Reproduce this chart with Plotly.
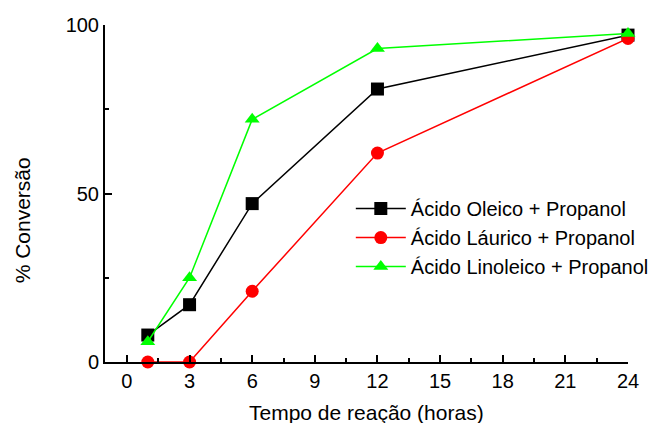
import plotly.graph_objects as go

# Reaction time (hours) and conversion (%) for each fatty acid with propanol
tempo = [1, 3, 6, 12, 24]
oleico = [8, 17, 47, 81, 97]
laurico = [0, 0, 21, 62, 96]
linoleico = [6, 25, 72, 93, 97.5]

x_ticks = [0, 3, 6, 9, 12, 15, 18, 21, 24]
y_ticks = [0, 50, 100]

FONT = "Liberation Sans, Arial, sans-serif"

series = [
    ("Ácido Oleico + Propanol", oleico, "#000000", "square"),
    ("Ácido Láurico + Propanol", laurico, "#ff0000", "circle"),
    ("Ácido Linoleico + Propanol", linoleico, "#00ff00", "triangle-up"),
]

fig = go.Figure()
for name, values, color, symbol in series:
    fig.add_trace(go.Scatter(
        x=tempo, y=values, name=name, mode="lines+markers",
        line=dict(color=color, width=1.5),
        marker=dict(symbol=symbol, size=13, color=color, line=dict(width=0)),
        cliponaxis=False,
    ))

axis_common = dict(
    showline=True, linecolor="black", linewidth=2,
    ticks="inside", ticklen=7, tickwidth=1.5, tickcolor="black",
    showgrid=False, zeroline=False, mirror=False, automargin=False,
    tickfont=dict(family=FONT, size=20, color="black"),
)

fig.update_xaxes(
    range=[-1.05, 24], tickmode="array", tickvals=x_ticks,
    minor=dict(ticks="inside", ticklen=4, tickwidth=1.5, tickcolor="black", dtick=1.5, tick0=0),
    **axis_common,
)
fig.update_yaxes(
    range=[0, 100], tickmode="array", tickvals=y_ticks,
    minor=dict(ticks="inside", ticklen=4, tickwidth=1.5, tickcolor="black", dtick=25, tick0=0),
    **axis_common,
)

title_font = dict(family=FONT, size=21, color="black")
fig.add_annotation(
    text="% Conversão", textangle=-90, xref="paper", yref="paper",
    x=-0.157, y=0.42, xanchor="center", yanchor="middle", showarrow=False,
    font=title_font,
)
fig.add_annotation(
    text="Tempo de reação (horas)", xref="paper", yref="paper",
    x=0.5, y=-0.151, xanchor="center", yanchor="middle", showarrow=False,
    font=title_font,
)

fig.update_layout(
    width=655, height=423,
    margin=dict(l=105, r=27, t=25, b=61, autoexpand=False),
    plot_bgcolor="white", paper_bgcolor="white",
    font=dict(family=FONT, size=20, color="black"),
    legend=dict(
        x=0.47, y=0.513, xanchor="left", yanchor="top",
        bgcolor="rgba(0,0,0,0)", borderwidth=0,
        font=dict(family=FONT, size=20, color="black"),
        itemwidth=50, tracegroupgap=0,
    ),
)

fig.write_html("out.html")
